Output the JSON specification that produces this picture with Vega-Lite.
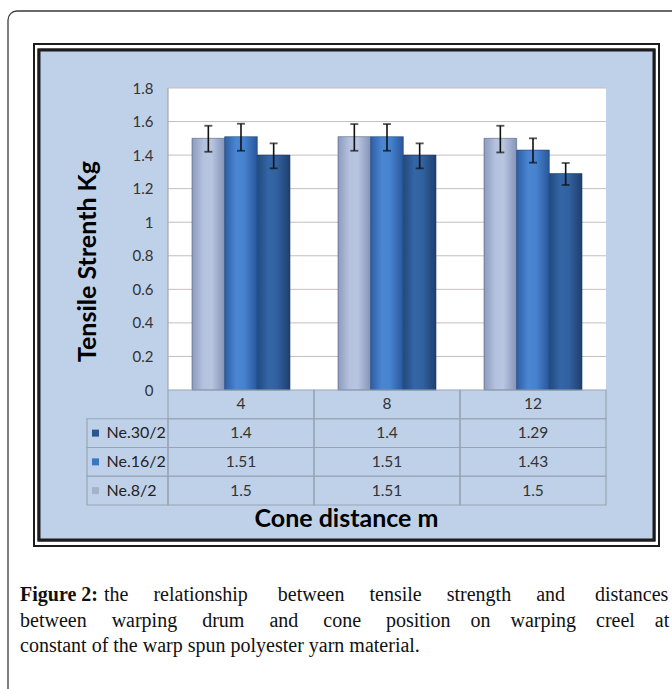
{
  "$schema": "https://vega.github.io/schema/vega-lite/v6.json",
  "width": 615,
  "height": 490,
  "autosize": {"type": "none"},
  "padding": {"left": 39, "top": 50, "right": 18, "bottom": 149},
  "background": "white",
  "config": {
    "view": {"fill": "#bfd1e9", "stroke": "#1c1c1c", "strokeWidth": 3},
    "font": "Lato"
  },
  "datasets": {
    "tensile": [
      {"distance": "4", "yarn": "Ne.8/2", "strength": 1.5, "lo": 1.42, "hi": 1.575},
      {"distance": "4", "yarn": "Ne.16/2", "strength": 1.51, "lo": 1.426, "hi": 1.587},
      {"distance": "4", "yarn": "Ne.30/2", "strength": 1.4, "lo": 1.321, "hi": 1.47},
      {"distance": "8", "yarn": "Ne.8/2", "strength": 1.51, "lo": 1.426, "hi": 1.585},
      {"distance": "8", "yarn": "Ne.16/2", "strength": 1.51, "lo": 1.426, "hi": 1.585},
      {"distance": "8", "yarn": "Ne.30/2", "strength": 1.4, "lo": 1.321, "hi": 1.47},
      {"distance": "12", "yarn": "Ne.8/2", "strength": 1.5, "lo": 1.416, "hi": 1.575},
      {"distance": "12", "yarn": "Ne.16/2", "strength": 1.43, "lo": 1.355, "hi": 1.5},
      {"distance": "12", "yarn": "Ne.30/2", "strength": 1.29, "lo": 1.222, "hi": 1.353}
    ],
    "grid": [
      {"g": 0.2}, {"g": 0.4}, {"g": 0.6}, {"g": 0.8}, {"g": 1.0},
      {"g": 1.2}, {"g": 1.4}, {"g": 1.6}, {"g": 1.8}
    ],
    "header": [{"distance": "4"}, {"distance": "8"}, {"distance": "12"}],
    "yarns": [{"yarn": "Ne.30/2"}, {"yarn": "Ne.16/2"}, {"yarn": "Ne.8/2"}],
    "caption": [
      {"line": "1", "part": "lead", "text": "Figure 2:"},
      {"line": "1", "part": "rest", "text": "the\u00a0\u00a0\u00a0\u00a0\u00a0relationship\u00a0\u00a0\u00a0\u00a0\u00a0\u00a0between\u00a0\u00a0\u00a0\u00a0\u00a0tensile\u00a0\u00a0\u00a0\u00a0\u00a0strength\u00a0\u00a0\u00a0\u00a0\u00a0and\u00a0\u00a0\u00a0\u00a0\u00a0\u00a0distances"},
      {"line": "2", "part": "body", "text": "between\u00a0\u00a0\u00a0\u00a0\u00a0warping\u00a0\u00a0\u00a0\u00a0\u00a0drum\u00a0\u00a0\u00a0\u00a0\u00a0and\u00a0\u00a0\u00a0\u00a0\u00a0cone\u00a0\u00a0\u00a0\u00a0\u00a0position\u00a0\u00a0\u00a0\u00a0on\u00a0\u00a0\u00a0\u00a0warping\u00a0\u00a0\u00a0\u00a0creel\u00a0\u00a0\u00a0\u00a0at"},
      {"line": "3", "part": "body", "text": "constant of the warp spun polyester yarn material."}
    ]
  },
  "layer": [
    {
      "data": {"values": [{}]},
      "mark": {"type": "rect", "fill": "transparent", "stroke": "#3a3a3a", "strokeWidth": 1.3, "cornerRadius": 9,
               "xOffset": -31, "x2Offset": 40, "yOffset": 200, "y2Offset": -39},
      "encoding": {
        "x": {"datum": 0, "type": "quantitative", "axis": null, "scale": {"domain": [0, 1], "nice": false, "zero": false}},
        "x2": {"datum": 1},
        "y": {"datum": 0, "type": "quantitative", "axis": null, "scale": {"domain": [0, 1], "nice": false, "zero": false}},
        "y2": {"datum": 1}
      }
    },
    {
      "data": {"values": [{}]},
      "mark": {"type": "rect", "fill": "#bfd1e9", "stroke": "#1c1c1c", "strokeWidth": 3},
      "encoding": {}
    },
    {
      "data": {"values": [{}]},
      "mark": {"type": "rect", "fill": "transparent", "stroke": "#1c1c1c", "strokeWidth": 2,
               "xOffset": -5, "x2Offset": 5, "yOffset": 6, "y2Offset": -6},
      "encoding": {
        "x": {"datum": 0, "type": "quantitative", "axis": null, "scale": {"domain": [0, 1], "nice": false, "zero": false}},
        "x2": {"datum": 1},
        "y": {"datum": 0, "type": "quantitative", "axis": null, "scale": {"domain": [0, 1], "nice": false, "zero": false}},
        "y2": {"datum": 1}
      }
    },
    {
      "data": {"name": "header"},
      "mark": {"type": "bar", "fill": "#ffffff"},
      "encoding": {
        "x": {"field": "distance", "type": "nominal", "axis": null,
              "scale": {"domain": ["4", "8", "12"], "range": [129, 567], "paddingInner": 0, "paddingOuter": 0}},
        "y": {"datum": 1.8, "type": "quantitative", "axis": null,
              "scale": {"domain": [0, 1.8], "range": [340, 38], "nice": false, "zero": false}},
        "y2": {"datum": 0}
      }
    },
    {
      "data": {"name": "grid"},
      "mark": {"type": "rule", "color": "#c8bcbf", "strokeWidth": 1},
      "encoding": {
        "x": {"datum": "4", "type": "nominal", "bandPosition": 0, "axis": null,
              "scale": {"domain": ["4", "8", "12"], "range": [129, 567], "paddingInner": 0, "paddingOuter": 0}},
        "x2": {"datum": "12", "bandPosition": 1},
        "y": {"field": "g", "type": "quantitative",
              "scale": {"domain": [0, 1.8], "range": [340, 38], "nice": false, "zero": false},
              "axis": {
                "values": [0, 0.2, 0.4, 0.6, 0.8, 1, 1.2, 1.4, 1.6, 1.8],
                "format": "~g", "offset": -129, "domain": false, "ticks": false, "grid": false,
                "zindex": 1,
                "labelPadding": 15, "labelFont": "Lato", "labelFontSize": 15, "labelColor": "#333333",
                "labelOverlap": false, "labelFlush": false,
                "title": "Tensile Strenth Kg", "titleFont": "Lato", "titleFontSize": 25,
                "titleFontWeight": "bold", "titleColor": "#000000", "titlePadding": 32, "titleY": 211
              }}
      }
    },
    {
      "data": {"values": [{}]},
      "mark": {"type": "rule", "color": "#a3a6ae", "strokeWidth": 1.2},
      "encoding": {
        "x": {"datum": "4", "type": "nominal", "bandPosition": 0, "axis": null,
              "scale": {"domain": ["4", "8", "12"], "range": [129, 567], "paddingInner": 0, "paddingOuter": 0}},
        "y": {"datum": 0, "type": "quantitative", "axis": null,
              "scale": {"domain": [0, 1.8], "range": [340, 38], "nice": false, "zero": false}},
        "y2": {"datum": 1.8}
      }
    },
    {
      "data": {"name": "tensile"},
      "transform": [{"filter": "datum.yarn === 'Ne.8/2'"}],
      "mark": {"type": "bar", "stroke": "#56637e", "strokeWidth": 0.6,
               "fill": {"gradient": "linear", "x1": 0, "x2": 1, "y1": 0, "y2": 0,
                        "stops": [{"offset": 0, "color": "#8c9abd"}, {"offset": 0.35, "color": "#b5c2de"}, {"offset": 0.6, "color": "#b8c5e0"}, {"offset": 1, "color": "#8593b8"}]}},
      "encoding": {
        "x": {"field": "distance", "type": "nominal", "axis": null,
              "scale": {"domain": ["4", "8", "12"], "range": [129, 567], "paddingInner": 0, "paddingOuter": 0}},
        "xOffset": {"field": "yarn", "scale": {"domain": ["Ne.8/2", "Ne.16/2", "Ne.30/2"], "paddingInner": 0, "paddingOuter": 0.7347}},
        "y": {"field": "strength", "type": "quantitative", "axis": null,
              "scale": {"domain": [0, 1.8], "range": [340, 38], "nice": false, "zero": false}},
        "y2": {"datum": 0}
      }
    },
    {
      "data": {"name": "tensile"},
      "transform": [{"filter": "datum.yarn === 'Ne.16/2'"}],
      "mark": {"type": "bar", "stroke": "#234a80", "strokeWidth": 0.6,
               "fill": {"gradient": "linear", "x1": 0, "x2": 1, "y1": 0, "y2": 0,
                        "stops": [{"offset": 0, "color": "#2d5ea4"}, {"offset": 0.35, "color": "#4a86d2"}, {"offset": 0.6, "color": "#4682cd"}, {"offset": 1, "color": "#29569a"}]}},
      "encoding": {
        "x": {"field": "distance", "type": "nominal", "axis": null,
              "scale": {"domain": ["4", "8", "12"], "range": [129, 567], "paddingInner": 0, "paddingOuter": 0}},
        "xOffset": {"field": "yarn", "scale": {"domain": ["Ne.8/2", "Ne.16/2", "Ne.30/2"], "paddingInner": 0, "paddingOuter": 0.7347}},
        "y": {"field": "strength", "type": "quantitative", "axis": null,
              "scale": {"domain": [0, 1.8], "range": [340, 38], "nice": false, "zero": false}},
        "y2": {"datum": 0}
      }
    },
    {
      "data": {"name": "tensile"},
      "transform": [{"filter": "datum.yarn === 'Ne.30/2'"}],
      "mark": {"type": "bar", "stroke": "#1b3a66", "strokeWidth": 0.6,
               "fill": {"gradient": "linear", "x1": 0, "x2": 1, "y1": 0, "y2": 0,
                        "stops": [{"offset": 0, "color": "#224a7f"}, {"offset": 0.35, "color": "#3466a6"}, {"offset": 0.6, "color": "#31619f"}, {"offset": 1, "color": "#1f3f6e"}]}},
      "encoding": {
        "x": {"field": "distance", "type": "nominal", "axis": null,
              "scale": {"domain": ["4", "8", "12"], "range": [129, 567], "paddingInner": 0, "paddingOuter": 0}},
        "xOffset": {"field": "yarn", "scale": {"domain": ["Ne.8/2", "Ne.16/2", "Ne.30/2"], "paddingInner": 0, "paddingOuter": 0.7347}},
        "y": {"field": "strength", "type": "quantitative", "axis": null,
              "scale": {"domain": [0, 1.8], "range": [340, 38], "nice": false, "zero": false}},
        "y2": {"datum": 0}
      }
    },
    {
      "data": {"name": "tensile"},
      "mark": {"type": "rule", "color": "#111111", "strokeWidth": 1.6},
      "encoding": {
        "x": {"field": "distance", "type": "nominal", "axis": null,
              "scale": {"domain": ["4", "8", "12"], "range": [129, 567], "paddingInner": 0, "paddingOuter": 0}},
        "xOffset": {"field": "yarn", "scale": {"domain": ["Ne.8/2", "Ne.16/2", "Ne.30/2"], "paddingInner": 0, "paddingOuter": 0.7347}},
        "y": {"field": "lo", "type": "quantitative", "axis": null,
              "scale": {"domain": [0, 1.8], "range": [340, 38], "nice": false, "zero": false}},
        "y2": {"field": "hi"}
      }
    },
    {
      "data": {"name": "tensile"},
      "mark": {"type": "tick", "color": "#111111", "size": 8, "thickness": 1.8},
      "encoding": {
        "x": {"field": "distance", "type": "nominal", "axis": null,
              "scale": {"domain": ["4", "8", "12"], "range": [129, 567], "paddingInner": 0, "paddingOuter": 0}},
        "xOffset": {"field": "yarn", "scale": {"domain": ["Ne.8/2", "Ne.16/2", "Ne.30/2"], "paddingInner": 0, "paddingOuter": 0.7347}},
        "y": {"field": "lo", "type": "quantitative", "axis": null,
              "scale": {"domain": [0, 1.8], "range": [340, 38], "nice": false, "zero": false}}
      }
    },
    {
      "data": {"name": "tensile"},
      "mark": {"type": "tick", "color": "#111111", "size": 8, "thickness": 1.8},
      "encoding": {
        "x": {"field": "distance", "type": "nominal", "axis": null,
              "scale": {"domain": ["4", "8", "12"], "range": [129, 567], "paddingInner": 0, "paddingOuter": 0}},
        "xOffset": {"field": "yarn", "scale": {"domain": ["Ne.8/2", "Ne.16/2", "Ne.30/2"], "paddingInner": 0, "paddingOuter": 0.7347}},
        "y": {"field": "hi", "type": "quantitative", "axis": null,
              "scale": {"domain": [0, 1.8], "range": [340, 38], "nice": false, "zero": false}}
      }
    },
    {
      "data": {"name": "tensile"},
      "mark": {"type": "rect", "fill": "transparent", "stroke": "#98a5b6", "strokeWidth": 1.2},
      "encoding": {
        "x": {"field": "distance", "type": "nominal",
              "scale": {"domain": ["4", "8", "12"], "range": [129, 567], "paddingInner": 0, "paddingOuter": 0},
              "axis": {"title": "Cone distance m", "labels": false, "ticks": false, "domain": false, "grid": false,
                       "offset": -35, "zindex": 1, "titleFont": "Lato", "titleFontSize": 25, "titleFontWeight": "bold",
                       "titleColor": "#000000", "titleX": 307, "titlePadding": 1}},
        "y": {"field": "yarn", "type": "nominal", "axis": null,
              "scale": {"domain": ["hdr", "Ne.30/2", "Ne.16/2", "Ne.8/2"], "range": [340, 455], "paddingInner": 0, "paddingOuter": 0}}
      }
    },
    {
      "data": {"name": "tensile"},
      "mark": {"type": "text", "font": "Lato", "fontSize": 15.5, "color": "#333333", "align": "center", "baseline": "middle"},
      "encoding": {
        "x": {"field": "distance", "type": "nominal", "axis": null,
              "scale": {"domain": ["4", "8", "12"], "range": [129, 567], "paddingInner": 0, "paddingOuter": 0}},
        "y": {"field": "yarn", "type": "nominal", "axis": null,
              "scale": {"domain": ["hdr", "Ne.30/2", "Ne.16/2", "Ne.8/2"], "range": [340, 455], "paddingInner": 0, "paddingOuter": 0}},
        "text": {"field": "strength", "type": "quantitative", "format": "~g"}
      }
    },
    {
      "data": {"name": "header"},
      "mark": {"type": "rect", "fill": "transparent", "stroke": "#98a5b6", "strokeWidth": 1.2},
      "encoding": {
        "x": {"field": "distance", "type": "nominal", "axis": null,
              "scale": {"domain": ["4", "8", "12"], "range": [129, 567], "paddingInner": 0, "paddingOuter": 0}},
        "y": {"datum": "hdr", "type": "nominal", "axis": null,
              "scale": {"domain": ["hdr", "Ne.30/2", "Ne.16/2", "Ne.8/2"], "range": [340, 455], "paddingInner": 0, "paddingOuter": 0}}
      }
    },
    {
      "data": {"name": "header"},
      "mark": {"type": "text", "font": "Lato", "fontSize": 15.5, "color": "#333333", "align": "center", "baseline": "middle"},
      "encoding": {
        "x": {"field": "distance", "type": "nominal", "axis": null,
              "scale": {"domain": ["4", "8", "12"], "range": [129, 567], "paddingInner": 0, "paddingOuter": 0}},
        "y": {"datum": "hdr", "type": "nominal", "axis": null,
              "scale": {"domain": ["hdr", "Ne.30/2", "Ne.16/2", "Ne.8/2"], "range": [340, 455], "paddingInner": 0, "paddingOuter": 0}},
        "text": {"field": "distance"}
      }
    },
    {
      "data": {"name": "yarns"},
      "mark": {"type": "rect", "fill": "transparent", "stroke": "#98a5b6", "strokeWidth": 1.2},
      "encoding": {
        "x": {"datum": "legend", "type": "nominal", "axis": null,
              "scale": {"domain": ["legend"], "range": [48, 129], "paddingInner": 0, "paddingOuter": 0}},
        "y": {"field": "yarn", "type": "nominal", "axis": null,
              "scale": {"domain": ["hdr", "Ne.30/2", "Ne.16/2", "Ne.8/2"], "range": [340, 455], "paddingInner": 0, "paddingOuter": 0}}
      }
    },
    {
      "data": {"name": "yarns"},
      "mark": {"type": "point", "shape": "square", "filled": true, "size": 49, "opacity": 1, "xOffset": -32},
      "encoding": {
        "x": {"datum": "legend", "type": "nominal", "axis": null,
              "scale": {"domain": ["legend"], "range": [48, 129], "paddingInner": 0, "paddingOuter": 0}},
        "y": {"field": "yarn", "type": "nominal", "axis": null,
              "scale": {"domain": ["hdr", "Ne.30/2", "Ne.16/2", "Ne.8/2"], "range": [340, 455], "paddingInner": 0, "paddingOuter": 0}},
        "color": {"field": "yarn", "type": "nominal", "legend": null,
                  "scale": {"domain": ["Ne.30/2", "Ne.16/2", "Ne.8/2"], "range": ["#2a5690", "#3a76c2", "#a7b2c8"]}}
      }
    },
    {
      "data": {"name": "yarns"},
      "mark": {"type": "text", "font": "Lato", "fontSize": 16, "color": "#222222", "align": "left", "baseline": "middle", "dx": -21},
      "encoding": {
        "x": {"datum": "legend", "type": "nominal", "axis": null,
              "scale": {"domain": ["legend"], "range": [48, 129], "paddingInner": 0, "paddingOuter": 0}},
        "y": {"field": "yarn", "type": "nominal", "axis": null,
              "scale": {"domain": ["hdr", "Ne.30/2", "Ne.16/2", "Ne.8/2"], "range": [340, 455], "paddingInner": 0, "paddingOuter": 0}},
        "text": {"field": "yarn"}
      }
    },
    {
      "data": {"name": "caption"},
      "transform": [{"filter": "datum.part === 'lead'"}],
      "mark": {"type": "text", "font": "Liberation Serif", "fontSize": 20, "fontWeight": "bold", "color": "#111111", "align": "left", "baseline": "middle"},
      "encoding": {
        "x": {"datum": 0, "type": "quantitative", "axis": null, "scale": {"domain": [0, 1], "range": [-19, 629], "nice": false, "zero": false}},
        "y": {"field": "line", "type": "nominal", "axis": null,
              "scale": {"domain": ["1", "2", "3"], "range": [532.5, 609], "paddingInner": 0, "paddingOuter": 0}},
        "text": {"field": "text"}
      }
    },
    {
      "data": {"name": "caption"},
      "transform": [{"filter": "datum.part === 'rest'"}],
      "mark": {"type": "text", "font": "Liberation Serif", "fontSize": 20, "color": "#111111", "align": "left", "baseline": "middle", "dx": 84},
      "encoding": {
        "x": {"datum": 0, "type": "quantitative", "axis": null, "scale": {"domain": [0, 1], "range": [-19, 629], "nice": false, "zero": false}},
        "y": {"field": "line", "type": "nominal", "axis": null,
              "scale": {"domain": ["1", "2", "3"], "range": [532.5, 609], "paddingInner": 0, "paddingOuter": 0}},
        "text": {"field": "text"}
      }
    },
    {
      "data": {"name": "caption"},
      "transform": [{"filter": "datum.part === 'body'"}],
      "mark": {"type": "text", "font": "Liberation Serif", "fontSize": 20, "color": "#111111", "align": "left", "baseline": "middle"},
      "encoding": {
        "x": {"datum": 0, "type": "quantitative", "axis": null, "scale": {"domain": [0, 1], "range": [-19, 629], "nice": false, "zero": false}},
        "y": {"field": "line", "type": "nominal", "axis": null,
              "scale": {"domain": ["1", "2", "3"], "range": [532.5, 609], "paddingInner": 0, "paddingOuter": 0}},
        "text": {"field": "text"}
      }
    }
  ],
  "resolve": {
    "scale": {"x": "independent", "y": "independent"},
    "axis": {"x": "independent", "y": "independent"}
  }
}
